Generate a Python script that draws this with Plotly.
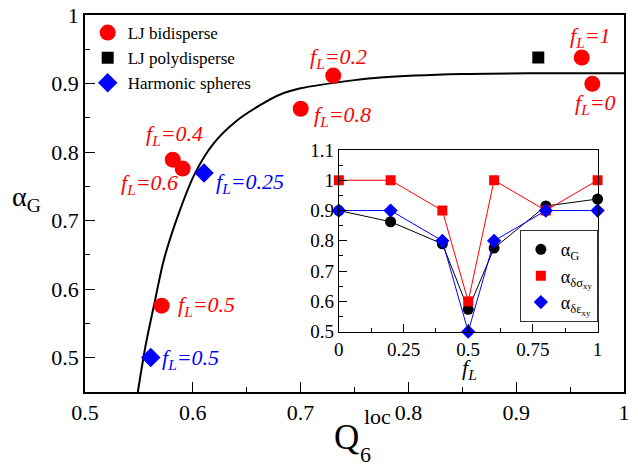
import plotly.graph_objects as go

# ---- main panel data ----
lj_bi_q6 = [0.9608, 0.9706, 0.7303, 0.7001, 0.5814, 0.5906, 0.5711]
lj_bi_alpha = [0.938, 0.8996, 0.9116, 0.8632, 0.789, 0.776, 0.576]
lj_bi_labels = ["1", "0", "0.2", "0.8", "0.4", "0.6", "0.5"]
lj_bi_shift = [(9, 21), (3, -20), (5, 18), (42, -7), (2, 25), (-33, -15), (45, 0)]

lj_poly_q6 = [0.9205]
lj_poly_alpha = [0.938]

harm_q6 = [0.6104, 0.561]
harm_alpha = [0.7695, 0.5004]
harm_labels = ["0.25", "0.5"]
harm_shift = [(46, -10), (40, -2)]

curve_q6 = [0.549, 0.556, 0.565, 0.573, 0.588, 0.602, 0.619, 0.641, 0.662, 0.681,
            0.70, 0.75, 0.774, 0.85, 0.92, 1.0]
curve_alpha = [0.45, 0.516, 0.584, 0.642, 0.715, 0.769, 0.812, 0.846, 0.868, 0.884,
               0.893, 0.905, 0.909, 0.914, 0.915, 0.915]

# ---- inset data ----
fL = [0, 0.2, 0.4, 0.5, 0.6, 0.8, 1.0]
alpha_G = [0.90, 0.863, 0.79, 0.574, 0.776, 0.915, 0.938]
alpha_dsigma = [1.0, 1.0, 0.9, 0.6, 1.0, 0.9, 1.0]
alpha_deps = [0.9, 0.9, 0.8, 0.5, 0.8, 0.9, 0.9]

SERIF = "Liberation Serif, Times New Roman, Times, serif"
RED = "#ff0000"
BLUE = "#0000ff"

fig = go.Figure()

fig.add_trace(go.Scatter(x=curve_q6, y=curve_alpha, mode="lines",
                         line=dict(color="black", width=2, shape="spline", smoothing=0.8),
                         showlegend=False, hoverinfo="skip"))
fig.add_trace(go.Scatter(x=lj_bi_q6, y=lj_bi_alpha, mode="markers", name="LJ bidisperse",
                         marker=dict(symbol="circle", size=16, color=RED), cliponaxis=False,
                         legend="legend"))
fig.add_trace(go.Scatter(x=lj_poly_q6, y=lj_poly_alpha, mode="markers", name="LJ polydisperse",
                         marker=dict(symbol="square", size=12, color="black"), cliponaxis=False,
                         legend="legend"))
fig.add_trace(go.Scatter(x=harm_q6, y=harm_alpha, mode="markers", name="Harmonic spheres",
                         marker=dict(symbol="diamond", size=15, color=BLUE), cliponaxis=False,
                         legend="legend"))

# inset: lines and markers as separate traces so the legend shows markers only
inset_series = [
    (alpha_G, "α<sub>G</sub>", "black", "circle", 11),
    (alpha_dsigma, "α<sub>δσ<sub>xy</sub></sub>", RED, "square", 10),
    (alpha_deps, "α<sub>δε<sub>xy</sub></sub>", BLUE, "diamond", 11),
]
for vals, name, col, sym, sz in inset_series:
    fig.add_trace(go.Scatter(x=fL, y=vals, mode="lines", line=dict(color=col, width=1),
                             xaxis="x2", yaxis="y2", showlegend=False, hoverinfo="skip"))
    fig.add_trace(go.Scatter(x=fL, y=vals, mode="markers", name=name,
                             marker=dict(symbol=sym, size=sz, color=col),
                             xaxis="x2", yaxis="y2", cliponaxis=False, legend="legend2"))

annotations = []
for x, y, lab, (dx, dy) in zip(lj_bi_q6, lj_bi_alpha, lj_bi_labels, lj_bi_shift):
    annotations.append(dict(x=x, y=y, xref="x", yref="y", text="<i>f<sub>L</sub>=%s</i>" % lab,
                            showarrow=False, xshift=dx, yshift=dy,
                            xanchor="center", yanchor="middle",
                            font=dict(family=SERIF, size=22, color=RED)))
for x, y, lab, (dx, dy) in zip(harm_q6, harm_alpha, harm_labels, harm_shift):
    annotations.append(dict(x=x, y=y, xref="x", yref="y", text="<i>f<sub>L</sub>=%s</i>" % lab,
                            showarrow=False, xshift=dx, yshift=dy,
                            xanchor="center", yanchor="middle",
                            font=dict(family=SERIF, size=22, color=BLUE)))


def title_note(x, y, text, size):
    return dict(x=x, y=y, xref="paper", yref="paper", text=text, showarrow=False,
                xanchor="center", yanchor="middle",
                font=dict(family=SERIF, size=size, color="black"))


# axis titles
annotations.append(title_note(-0.1085, 0.512, "α<sub>G</sub>", 28))
annotations.append(title_note(0.486, -0.122, "Q", 35))
annotations.append(title_note(0.542, -0.064, "loc", 22))
annotations.append(title_note(0.521, -0.166, "6", 22))
# inset x title
annotations.append(title_note(0.7125, 0.062, "<i>f<sub>L</sub></i>", 22))

axis_common = dict(showline=True, linecolor="black", mirror=True, ticks="inside",
                   showgrid=False, zeroline=False, tickcolor="black", automargin=False)

fig.update_layout(
    width=638, height=464,
    margin=dict(l=85, r=14, t=15, b=72),
    paper_bgcolor="white", plot_bgcolor="white",
    font=dict(family=SERIF, color="black"),
    xaxis=dict(range=[0.5, 1.0], dtick=0.1, tick0=0.5, linewidth=1.8, ticklen=10, tickwidth=1.3,
               tickfont=dict(family=SERIF, size=22), tickformat="~g",
               minor=dict(ticks="inside", ticklen=5, dtick=0.05, tickcolor="black", tickwidth=1.2),
               **axis_common),
    yaxis=dict(range=[0.45, 1.0], dtick=0.1, tick0=0.5, linewidth=1.8, ticklen=10, tickwidth=1.3,
               tickfont=dict(family=SERIF, size=22), tickformat="~g",
               minor=dict(ticks="inside", ticklen=5, dtick=0.05, tickcolor="black", tickwidth=1.2),
               **axis_common),
    xaxis2=dict(domain=[0.471, 0.951], anchor="y2", range=[0, 1], dtick=0.25, tick0=0,
                linewidth=1.2, ticklen=8, tickwidth=1, tickfont=dict(family=SERIF, size=19),
                tickformat="~g",
                minor=dict(ticks="inside", ticklen=4, dtick=0.125, tickcolor="black"),
                **axis_common),
    yaxis2=dict(domain=[0.160, 0.642], anchor="x2", range=[0.5, 1.1], dtick=0.1, tick0=0.5,
                linewidth=1.2, ticklen=8, tickwidth=1, tickfont=dict(family=SERIF, size=19),
                tickformat="~g",
                minor=dict(ticks="inside", ticklen=4, dtick=0.05, tickcolor="black"),
                **axis_common),
    legend=dict(x=0.005, y=1.0, xanchor="left", yanchor="top", bgcolor="rgba(0,0,0,0)",
                font=dict(family=SERIF, size=17), tracegroupgap=0, itemwidth=30),
    legend2=dict(x=0.953, y=0.43, xanchor="right", yanchor="top", bgcolor="white",
                 bordercolor="#333333", borderwidth=1.2,
                 font=dict(family=SERIF, size=18), itemwidth=30),
    annotations=annotations,
)

fig.write_html("out.html", config={"displayModeBar": False},
               post_script="document.body.style.margin='0';")
